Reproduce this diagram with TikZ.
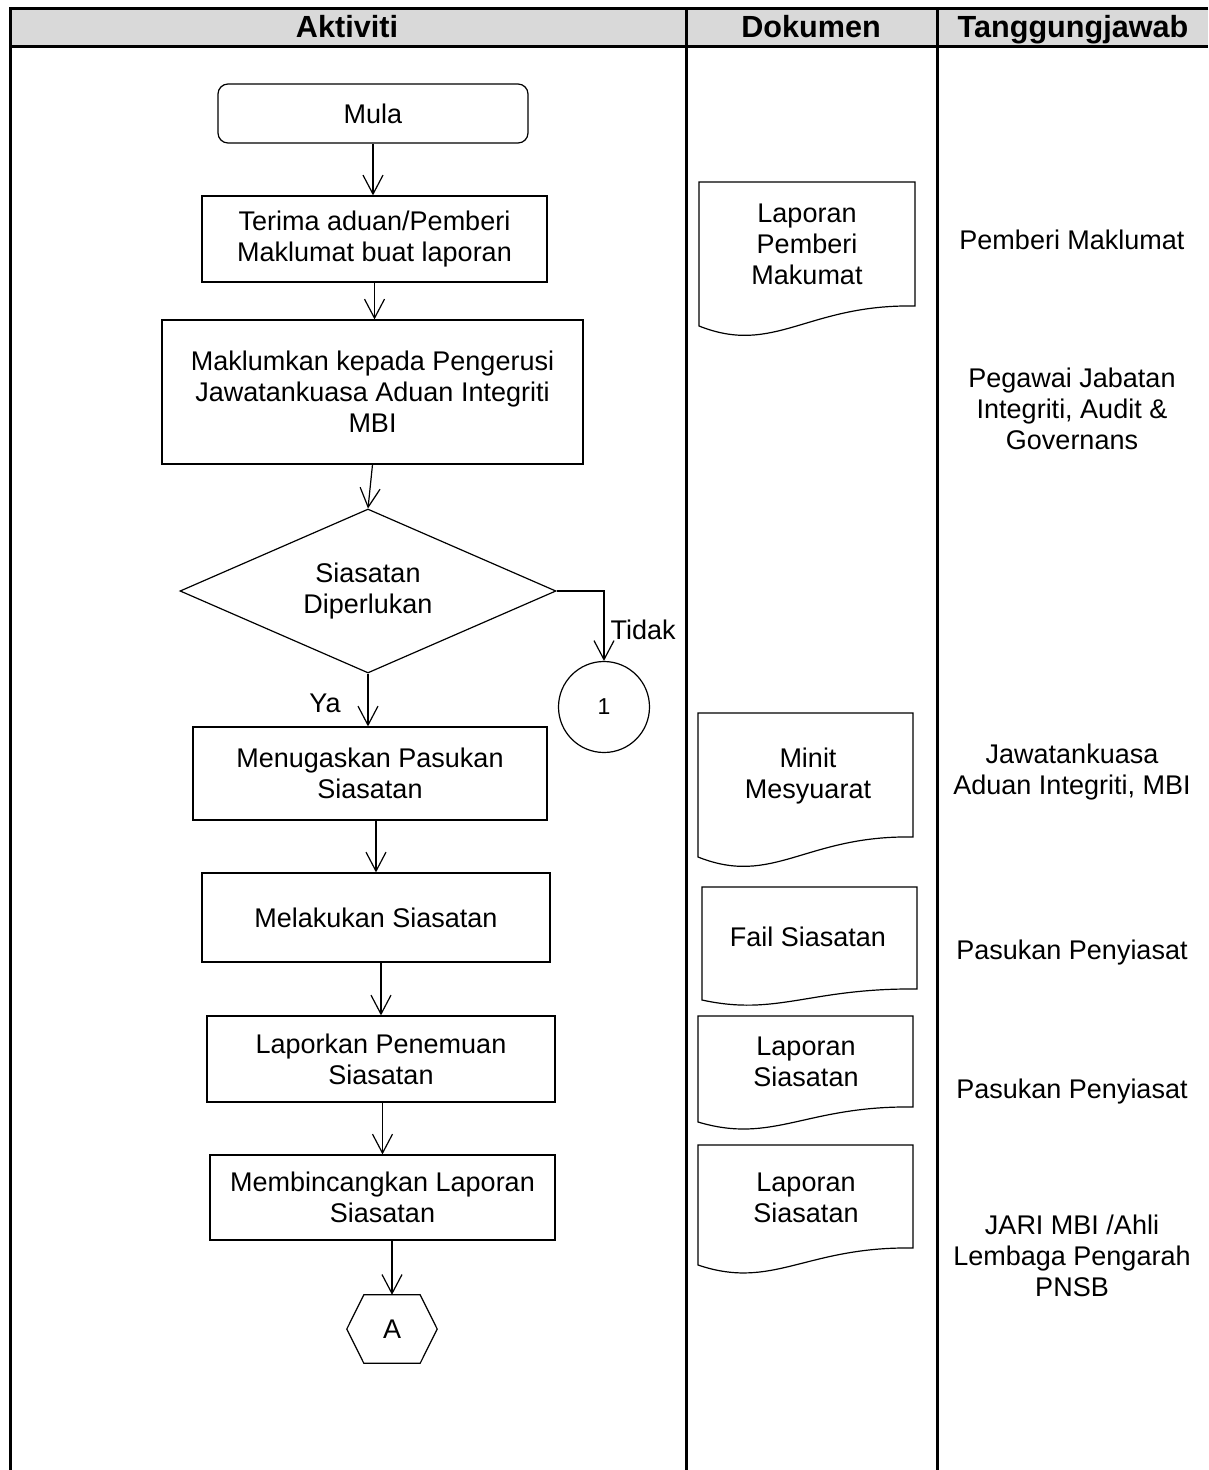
\documentclass[tikz,border=0pt]{standalone}
\usepackage{fontspec}
\setmainfont{Liberation Sans}
\usetikzlibrary{arrows.meta,shapes.geometric,calc}
\definecolor{hdr}{HTML}{D9D9D9}
\newcommand\docsh[5]{% L R T BL BR
  \pgfmathsetmacro\dw{#2-#1}\pgfmathsetmacro\dd{#4-#5}
  \draw[docline] (#1,#3) -- (#1,#4) .. controls ({#1+0.35*\dw},{#4+1.5*\dd}) and ({#1+0.5*\dw},{#4-1.1*\dd}) .. (#2,#5) -- (#2,#3) -- cycle;}
\begin{document}
\begin{tikzpicture}[x=1pt,y=-1pt,
  every node/.style={font=\fontsize{27}{31}\selectfont, align=center},
  proc/.style={draw, line width=1.2pt, inner sep=0pt},
  flow/.style={line width=1.2pt, -{Straight Barb[length=19pt,width=20pt,line width=1.2pt]}},
  docline/.style={line width=1.2pt},
  gridline/.style={line width=3pt},
  hdrtext/.style={font=\fontsize{30.6}{34}\selectfont\bfseries, anchor=base, inner sep=0pt}]
\useasboundingbox (0,0) rectangle (1208,1470);
% table
\fill[hdr] (10,8) rectangle (1208,46);
\draw[gridline] (1208,8) -- (10,8) -- (10,1470);
\draw[gridline] (10,46) -- (1208,46);
\draw[gridline] (686,8) -- (686,1470);
\draw[gridline] (937,8) -- (937,1470);
\node[hdrtext] (h1) at (347,37) {Aktiviti};
\node[hdrtext] (h2) at (811,37) {Dokumen};
\node[hdrtext] (h3) at (1073,37) {Tanggungjawab};
% flow
\node[proc, rounded corners=10pt, minimum width=310pt, minimum height=59pt] (mula) at (373,113.5) {Mula};
\node[proc, minimum width=345pt, minimum height=86pt] (b2) at (374.5,239) {Terima aduan/Pemberi\\Maklumat buat laporan};
\node[proc, minimum width=421pt, minimum height=144pt] (b3) at (372.5,392) {Maklumkan kepada Pengerusi\\Jawatankuasa Aduan Integriti\\MBI};
\node[proc, diamond, aspect=2.29, minimum width=376pt, minimum height=164pt] (dia) at (368,591) {Siasatan\\Diperlukan};
\node[proc, circle, minimum size=91pt, font=\fontsize{23}{26}\selectfont] (c1) at (604,707) {1};
\node[proc, minimum width=354pt, minimum height=93pt] (b4) at (370,773.5) {Menugaskan Pasukan\\Siasatan};
\node[proc, minimum width=348pt, minimum height=89pt] (b5) at (376,917.5) {Melakukan Siasatan};
\node[proc, minimum width=348pt, minimum height=86pt] (b6) at (381,1059) {Laporkan Penemuan\\Siasatan};
\node[proc, minimum width=345pt, minimum height=85pt] (b7) at (382.5,1197.5) {Membincangkan Laporan\\Siasatan};
\node[inner sep=0pt, minimum width=90pt, minimum height=68pt] (hexA) at (392,1329) {A};
\draw[line width=1.2pt] (hexA.west) -- ($(hexA.north west)+(17,0)$) -- ($(hexA.north east)+(-17,0)$) -- (hexA.east) -- ($(hexA.south east)+(-17,0)$) -- ($(hexA.south west)+(17,0)$) -- cycle;
% connectors
\draw[flow] (mula.south) -- (mula.south |- b2.north);
\draw[flow] (b2.south) -- (b2.south |- b3.north);
\draw[flow] (b3.south) -- (dia.north);
\draw[flow] (dia.east) -| (c1.north);
\draw[flow] (dia.south) -- (dia.south |- b4.north);
\draw[flow] (b5.north |- b4.south) -- (b5.north);
\draw[flow] (b6.north |- b5.south) -- (b6.north);
\draw[flow] (b7.north |- b6.south) -- (b7.north);
\draw[flow] (hexA.north |- b7.south) -- (hexA.north);
\node[anchor=west] (tidak) at (607,630) {Tidak};
\node (ya) at (325,703) {Ya};
% documents
\docsh{699}{915}{182}{326}{306}
\node (d1) at (807,244) {Laporan\\Pemberi\\Makumat};
\docsh{698}{913}{713}{857}{837}
\node (d2) at (808,776) {Minit\\Mesyuarat};
\docsh{702}{917}{887}{1000}{989}
\node (d3) at (808,937) {Fail Siasatan};
\docsh{698}{913}{1016}{1122}{1107}
\node (d4) at (806,1062) {Laporan\\Siasatan};
\docsh{698}{913}{1145}{1265}{1248}
\node (d5) at (806,1198) {Laporan\\Siasatan};
% responsibility
\node (r1) at (1072,240) {Pemberi Maklumat};
\node (r2) at (1072,409) {Pegawai Jabatan\\Integriti, Audit \&\\Governans};
\node (r3) at (1072,772) {Jawatankuasa\\Aduan Integriti, MBI};
\node (r4) at (1072,953) {Pasukan Penyiasat};
\node (r5) at (1072,1092) {Pasukan Penyiasat};
\node (r6) at (1072,1256) {JARI MBI /Ahli\\Lembaga Pengarah\\PNSB};
\end{tikzpicture}
\end{document}
